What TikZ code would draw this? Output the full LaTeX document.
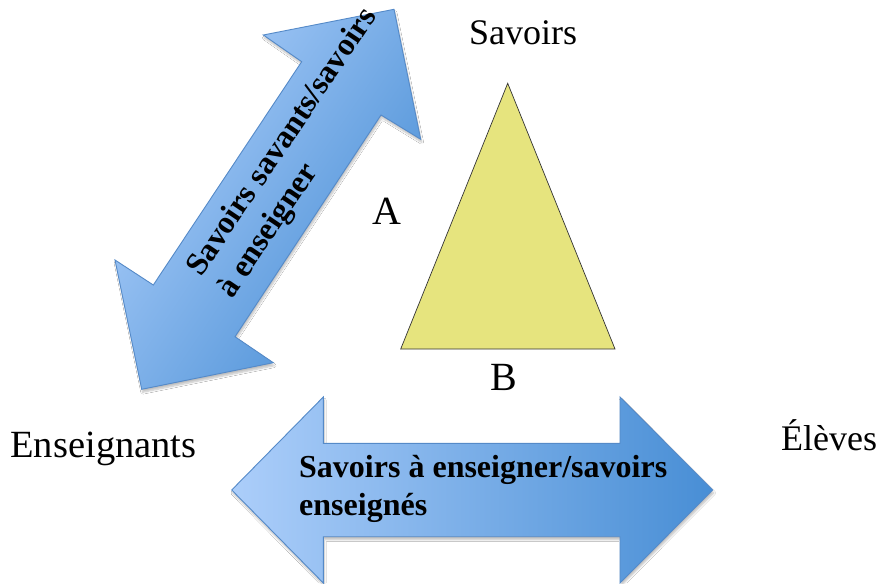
\documentclass[tikz,border=0pt]{standalone}
\usepackage{fontspec}
\setmainfont{Liberation Serif}
\usetikzlibrary{shadows.blur}
\definecolor{arrowlight}{RGB}{172,206,250}
\definecolor{arrowdark}{RGB}{72,142,213}
\definecolor{arrowline}{RGB}{85,138,200}
\definecolor{trifill}{RGB}{230,228,126}
\begin{document}
\begin{tikzpicture}[x=1pt,y=-1pt,
  arrowshape/.style={draw=arrowline, line width=0.9pt, line join=miter,
    blur shadow={shadow xshift=1pt, shadow yshift=-3pt, shadow opacity=25, shadow blur steps=6}},
  pole/.style={font=\fontsize{36}{40}\selectfont, inner sep=0pt},
  side/.style={font=\fontsize{40}{44}\selectfont, inner sep=0pt},
  arrowtext/.style={font=\bfseries\fontsize{32}{38}\selectfont, inner sep=0pt}]
\useasboundingbox (0,0) rectangle (882,583);
\fill[white] (0,0) rectangle (882,583);
% diagonal double arrow
\path[arrowshape, top color=arrowlight, bottom color=arrowdark, shading angle=56]
  (394,9.3) -- (420.7,139.3) -- (381,115) -- (235,336.7) -- (273.3,362.7)
  -- (141.7,389.3) -- (115,260) -- (153.3,285) -- (301.7,61.7) -- (263.3,35) -- cycle;
% horizontal double arrow
\path[arrowshape, left color=arrowlight, right color=arrowdark]
  (231.7,490) -- (323.3,397) -- (323.3,443.3) -- (620,443.3) -- (620,397)
  -- (712.7,490) -- (620,583) -- (620,536.7) -- (323.3,536.7) -- (323.3,583) -- cycle;
% triangle
\draw[fill=trifill, draw=black!80, line width=0.7pt, line join=miter]
  (507.7,83.3) -- (615,349) -- (400.7,349) -- cycle;
% labels
\node[pole, anchor=base] (savoirs) at (523,45) {Savoirs};
\node[pole, anchor=base, font=\fontsize{38.5}{42}\selectfont] (ens) at (103.5,457) {Enseignants};
\node[pole, anchor=base] (eleves) at (829,450) {Élèves};
\node[side, anchor=base] (A) at (386.7,224) {A};
\node[side, anchor=base] (B) at (504,390) {B};
\node[arrowtext, anchor=base west] (htext) at (299,477)
  {\begin{tabular}[t]{@{}l@{}}Savoirs à enseigner/savoirs\\enseignés\end{tabular}};
\node[arrowtext, anchor=base west, rotate=56] (dtext) at (201,278)
  {\begin{tabular}[t]{@{}l@{}}Savoirs savants/savoirs\\à enseigner\end{tabular}};
\end{tikzpicture}
\end{document}
